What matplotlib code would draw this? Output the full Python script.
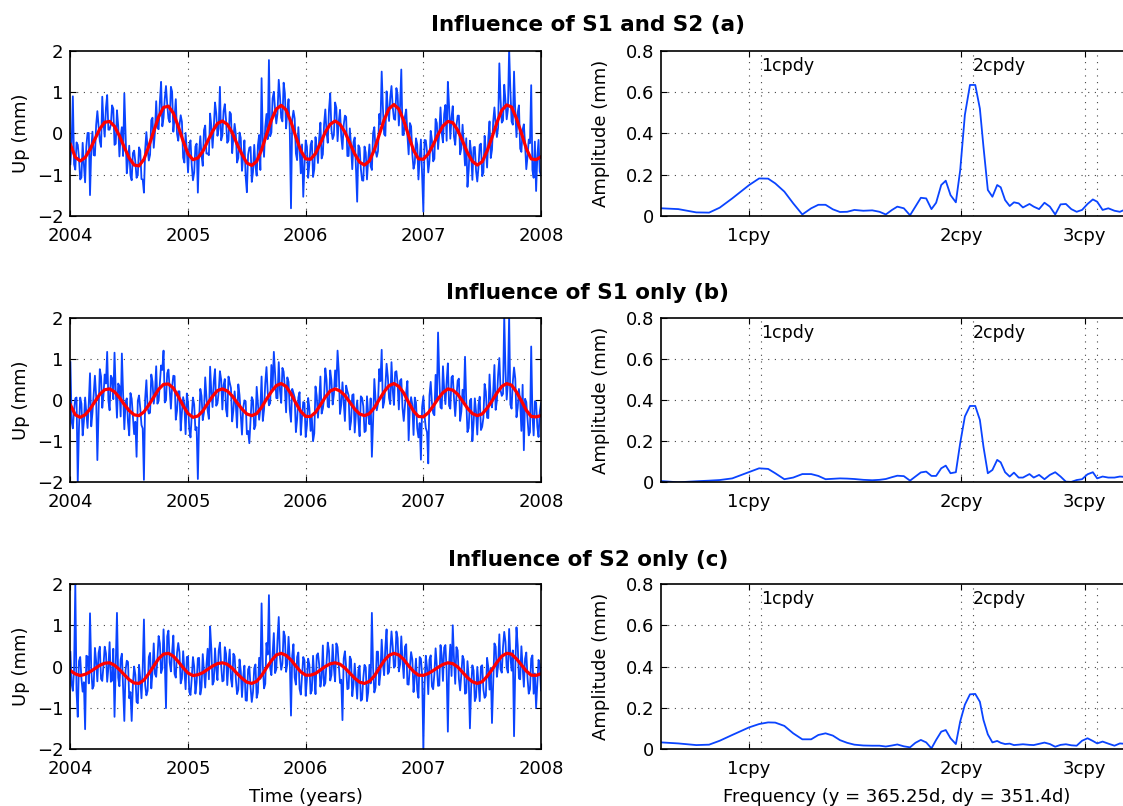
import numpy as np
import matplotlib
matplotlib.use("Agg")
import matplotlib.pyplot as plt

plt.rcParams['font.family'] = ['DejaVu Sans']
plt.rcParams['font.size'] = 13

# ---- time series (up component, mm) ----
# samples at 2004 + k/48 yr
up_a = [-0.75, 0.90, -0.88, -0.28, -1.12, -0.23, -1.19, 0.01, -1.50, 0.04,
        -0.54, 0.54, -0.19, 0.89, -0.08, 0.93, 0.09, 0.68, -0.28, 0.56,
        -0.56, 0.15, 0.97, -0.97, -0.30, -1.14, -0.42, -1.08, -0.34, -1.11,
        -1.44, 0.03, -0.66, 0.32, -0.35, 0.78, 0.10, 1.25, 0.38, 1.15,
        0.36, 1.13, 0.04, 0.83, -0.18, 0.44, -0.59, 0.01, -0.95, -0.17,
        -1.14, -0.32, -1.44, -0.07, -0.79, 0.19, -0.49, 0.48, -0.35, 0.75,
        -0.06, 1.13, -0.05, 0.71, -0.23, 0.52, -0.48, 0.23, -0.71, 0.02,
        -0.91, -0.17, -1.43, -0.35, -1.18, -0.28, -1.03, -0.04, 1.34, -0.57,
        0.47, 1.78, 0.02, 1.01, 0.24, 1.30, 0.38, 1.23, 0.12, 0.83,
        -1.82, 0.55, -0.49, 0.15, -0.97, -1.54, -0.17, -1.08, -0.28, -1.06,
        -0.09, -0.72, 0.26, -0.51, 0.58, -0.23, 0.97, -0.14, 0.75, -0.19,
        0.57, -0.38, 0.43, -0.55, 0.12, -0.87, -0.10, -1.66, -0.35, -1.14,
        -0.32, -1.12, -0.27, -0.89, 0.15, -0.57, 0.47, 1.50, -0.02, 1.02,
        0.30, 1.15, 0.35, 1.10, 0.19, 1.55, -0.04, 0.58, -0.51, 0.17,
        -0.86, -0.12, -1.12, -0.15, -1.90, -0.17, -0.95, 0.06, -0.68, 0.35,
        -0.38, 0.63, -0.22, 0.69, 1.25, -0.13, 0.66, -0.28, 0.43, -0.51,
        0.21, -0.78, -1.30, -0.18, -1.13, -0.33, -1.17, -0.28, -1.04, -0.06,
        -0.83, 0.29, -0.40, 0.63, -0.09, 1.70, 0.26, 1.18, 0.34, 2.05,
        0.29, 1.50, -0.09, 0.68, -0.45, 0.22, -0.87, -0.15, 1.17, -1.08,
        -1.40, -0.16, -1.02]
# samples halfway between the ones above
up_a_mid = [-0.25, -0.75, -0.22, -0.60, -1.07, -0.76, -0.32, 0.01, -0.41, -0.53,
            0.20, 0.17, -0.33, 0.25, 0.62, 0.09, 0.21, 0.60, -0.25, 0.18,
            -0.07, -0.55, 0.03, -0.66, -1.02, -0.48, -0.70, -1.01, -0.42, -1.12,
            -0.40, -0.37, -0.52, 0.38, 0.04, 0.13, 0.76, 0.17, 0.84, 0.70,
            0.27, 1.01, 0.39, -0.01, 0.20, 0.28, -0.71, -0.42, -0.30, -0.77,
            -0.95, -0.25, -0.46, -0.54, 0.08, -0.49, -0.53, 0.17, 0.14, 0.49,
            0.12, -0.17, 0.54, 0.32, -0.17, 0.47, -0.09, -0.03, -0.60, -0.11,
            -0.56, -1.05, -0.52, -0.33, -0.94, -0.79, -0.29, -0.89, -0.19, 0.16,
            -0.14, -0.07, 0.85, 0.58, 0.49, 0.90, 0.29, 0.98, 0.52, 0.09,
            0.33, 0.36, -0.65, -0.38, -0.27, -0.79, -0.32, -0.73, -0.18, -0.87,
            -0.35, -0.12, -0.61, 0.22, 0.02, 0.57, 0.08, -0.04, 0.62, 0.28,
            -0.07, 0.20, 0.40, -0.55, -0.30, -0.21, -0.83, -0.29, -0.86, -1.15,
            -0.47, -0.64, -0.80, 0.01, -0.41, -0.43, 0.22, 0.62, -0.06, 0.63,
            0.87, 0.64, 0.33, 0.94, 0.66, -0.04, 0.42, -0.05, 0.25, -0.50,
            -0.72, -0.27, -0.60, -0.99, -0.16, -0.45, -0.67, -0.16, -0.62, 0.25,
            0.02, 0.01, 0.47, -0.18, 0.66, 0.39, -0.08, 0.19, 0.43, -0.36,
            -0.28, -0.12, -0.90, -0.47, -0.34, -0.91, -0.81, -0.25, -0.95, -0.40,
            -0.13, -0.60, 0.29, 0.21, 0.14, 0.83, 0.31, 0.80, 0.58, 1.05,
            0.21, 0.51, 0.51, -0.37, 0.09, -0.26, -0.57, -0.24, -0.89, -0.20,
            -0.56, -0.93]

up_b = [0.92, -0.69, 0.04, -2.00, 0.06, -0.86, 0.06, -0.68, 0.65, -0.31,
        0.59, -1.46, 0.75, -0.19, 0.62, 1.17, -0.25, 0.53, 1.15, -0.43,
        0.34, 1.13, -0.71, 0.04, -0.86, 0.03, -0.83, -1.38, 0.11, -0.61,
        -1.94, 0.48, -0.33, 0.62, -0.09, 0.82, -0.02, 0.84, 1.20, -0.01,
        0.74, -0.21, 0.59, -0.48, 0.21, -0.74, 0.07, -0.83, -0.07, -0.91,
        0.06, -0.73, -1.92, 0.27, -0.49, 0.55, -0.26, 0.81, -0.17, 0.75,
        -0.08, 0.70, -0.23, 0.51, -0.40, 0.42, -0.52, 0.21, -0.67, 0.12,
        -0.84, -0.01, -0.83, -1.05, 0.07, -0.71, 0.32, -0.48, 0.57, -0.24,
        0.80, -0.13, 0.85, 1.17, 0.05, 0.92, -0.07, 0.69, -0.30, 0.44,
        -0.53, 0.17, -0.78, 0.06, -0.85, -0.05, -0.90, 0.05, -0.75, -1.00,
        0.33, -0.43, 0.57, -0.21, 0.77, -0.16, 0.72, -0.11, 0.72, 1.20,
        -0.34, 0.43, -0.51, 0.21, -0.72, 0.12, -0.79, -0.01, -0.88, 0.05,
        -0.78, 0.09, -0.59, -1.38, 0.51, -0.25, 0.75, 1.22, -0.05, 0.88,
        0.05, 0.92, -0.12, 0.70, -0.23, 0.51, -0.51, 0.19, -0.98, 0.07,
        -0.85, -0.06, -0.91, -1.45, 0.09, -0.68, -1.54, 0.44, -0.32, 0.61,
        1.64, -0.18, 0.82, -0.10, 0.89, -0.21, 0.59, -0.39, 0.47, -0.51,
        0.25, 1.05, -0.78, -0.01, -1.00, 0.04, -0.84, 0.08, -0.65, 0.39,
        -0.43, 0.62, -0.18, 0.85, -0.02, 1.02, 0.10, 2.05, 0.01, 2.05,
        -0.21, 0.79, -0.42, 0.27, -0.75, -1.22, -0.05, -0.86, 1.30, -0.86,
        -0.06, -0.90, -0.08]
up_b_mid = [-0.52, -0.24, 0.06, -0.67, -0.09, -0.52, -0.31, -0.08, -0.64, 0.15,
            0.09, -0.26, 0.57, 0.12, 0.40, -0.01, 0.59, 0.02, 0.21, 0.40,
            -0.40, 0.15, -0.05, -0.54, 0.17, -0.40, -0.53, -0.02, -0.20, -0.69,
            0.03, -0.18, -0.31, 0.44, 0.18, -0.09, 0.41, 0.73, -0.06, 0.65,
            0.25, 0.32, 0.58, -0.26, 0.21, -0.30, -0.11, 0.16, -0.71, -0.38,
            -0.11, -0.66, -0.54, 0.10, -0.30, 0.07, -0.46, 0.19, 0.45, -0.14,
            0.20, 0.50, 0.36, -0.23, 0.57, 0.29, -0.24, -0.12, 0.38, -0.38,
            -0.19, -0.03, -0.75, -0.51, -0.01, -0.62, -0.07, -0.22, -0.51, 0.41,
            0.19, -0.08, 0.28, 0.65, 0.04, 0.23, 0.78, 0.29, 0.55, -0.24,
            0.27, 0.06, -0.47, 0.19, -0.41, -0.07, -0.62, -0.20, -0.42, -0.81,
            0.10, -0.03, -0.33, 0.04, 0.49, -0.18, 0.47, 0.14, 0.32, 0.69,
            -0.11, -0.06, 0.35, 0.11, -0.52, 0.14, -0.33, -0.49, 0.09, -0.15,
            -0.75, -0.34, 0.04, -0.51, 0.02, -0.08, 0.46, -0.19, 0.32, 0.57,
            -0.10, 0.25, 0.68, 0.39, 0.47, -0.19, -0.13, 0.46, -0.17, -0.12,
            0.06, -0.69, -0.56, -0.17, -0.39, -0.78, 0.11, -0.07, -0.37, -0.03,
            0.55, -0.21, 0.25, 0.45, -0.14, 0.55, 0.04, 0.07, 0.52, -0.28,
            -0.05, -0.01, -0.68, 0.03, -0.56, -0.29, -0.12, -0.73, -0.43, 0.20,
            -0.44, -0.01, 0.20, -0.24, 0.61, 0.24, 0.15, 0.73, 0.41, -0.11,
            0.44, 0.52, -0.19, -0.04, 0.37, 0.03, -0.44, -0.78, -0.35, -0.03,
            -0.65, -0.29]

up_c = [0.35, -0.59, 2.00, -1.22, 0.23, -0.61, -1.52, 0.24, 1.29, -0.54,
        0.45, -0.36, 0.48, -0.35, 0.48, -0.37, 0.59, -0.34, -1.22, 1.30,
        -0.48, 0.31, -1.32, 0.14, -0.77, -1.32, 0.00, -0.86, 0.04, -0.77,
        1.14, -0.70, 0.23, -0.53, 0.56, -0.25, 0.74, -0.16, 0.90, -1.01,
        0.87, -0.12, 0.75, -0.27, 0.57, -0.41, 0.37, -0.55, 0.24, -0.69,
        0.23, -0.66, 0.20, -0.68, 0.30, -0.51, 0.43, 0.97, -0.44, 0.44,
        -0.33, 0.58, -0.36, 0.47, -0.45, 0.41, -0.49, 0.25, -0.67, 0.17,
        -0.74, 0.02, -0.83, 0.00, -0.86, -0.04, -0.76, 0.21, 1.53, -0.53,
        0.57, 1.73, -0.21, 0.81, -0.07, 1.20, -0.08, 0.85, -0.13, 0.72,
        -1.19, 0.54, -0.44, 0.34, -0.68, 0.23, -0.71, 0.19, -0.66, 0.26,
        -0.67, 0.32, -0.49, 0.51, -0.40, 0.58, -0.34, 0.53, -0.36, 0.47,
        -0.40, -1.30, 0.37, -0.55, 0.24, -0.72, 0.07, -0.78, 0.02, -0.80,
        0.04, -0.84, 0.04, 1.30, -0.63, 0.36, -0.45, 0.65, -0.21, 0.90,
        -0.13, 0.85, -0.03, 0.85, -0.12, 0.73, -0.28, 0.54, -0.44, 0.35,
        -0.62, 0.19, -0.76, 0.19, -2.00, 0.26, -0.67, 0.27, -0.55, 0.44,
        -0.47, 0.52, -0.35, 0.52, -1.58, 0.53, 1.00, -0.42, 0.39, -0.58,
        0.26, -0.66, 0.13, -1.50, 0.03, -0.84, -0.01, -0.84, 0.03, -0.76,
        0.21, -0.56, -1.37, 0.56, -0.25, 0.78, -0.15, 0.84, -0.03, 0.91,
        -0.10, -1.69, 0.95, -0.29, 0.49, -0.49, 0.34, -0.66, 0.19, -0.66,
        -1.00, 0.16, -0.58]
up_c_mid = [-0.42, -0.06, -0.61, 0.13, -0.29, -0.38, 0.26, -0.41, -0.05, -0.47,
            0.13, 0.33, -0.30, 0.03, 0.32, -0.03, -0.37, 0.43, 0.00, -0.27,
            0.17, -0.53, -0.09, 0.11, -0.62, -0.44, -0.20, -0.89, -0.29, -0.05,
            -0.45, -0.59, 0.33, -0.13, -0.18, 0.18, 0.56, -0.05, 0.16, 0.73,
            0.10, 0.35, -0.18, 0.33, 0.34, -0.29, -0.08, 0.23, -0.62, -0.29,
            0.00, -0.39, 0.21, -0.50, -0.13, 0.03, -0.31, 0.43, -0.36, -0.07,
            0.38, 0.03, -0.34, 0.31, 0.05, -0.30, 0.31, -0.30, -0.56, -0.10,
            -0.25, -0.82, -0.07, -0.50, -0.62, 0.05, -0.63, -0.30, 0.03, -0.42,
            0.29, -0.04, 0.28, -0.16, 0.65, 0.23, 0.07, 0.74, 0.06, 0.17,
            0.26, -0.27, 0.23, -0.54, -0.21, 0.15, -0.31, 0.04, -0.58, -0.23,
            0.27, 0.04, -0.28, -0.47, 0.10, 0.38, -0.21, -0.04, 0.56, 0.05,
            -0.32, 0.19, -0.02, -0.53, 0.17, -0.43, -0.37, -0.08, -0.83, -0.28,
            -0.02, -0.62, -0.41, -0.04, -0.51, 0.36, -0.15, 0.07, 0.47, -0.18,
            0.38, 0.49, 0.01, 0.69, 0.05, 0.15, 0.48, -0.43, 0.00, 0.17,
            -0.26, -0.57, 0.23, -0.21, -0.44, -0.02, 0.17, -0.48, -0.18, 0.02,
            -0.46, 0.27, 0.46, -0.10, 0.05, -0.23, 0.19, 0.47, -0.30, -0.19,
            0.17, -0.64, -0.26, -0.51, -0.10, -0.74, -0.40, 0.00, -0.56, -0.71,
            -0.02, -0.04, -0.36, 0.48, 0.02, -0.07, 0.47, 0.60, -0.15, 0.25,
            0.39, -0.03, 0.51, -0.31, -0.02, 0.19, -0.28, -0.55, 0.27, -0.17,
            -0.41, 0.04]

# ---- fitted draconitic signal, sampled every 1/24 yr ----
fit_a = [-0.27, -0.58, -0.67, -0.59, -0.39, -0.14, 0.11, 0.27, 0.29, 0.17,
         -0.06, -0.34, -0.60, -0.77, -0.79, -0.63, -0.31, 0.05, 0.40, 0.63,
         0.66, 0.49, 0.17, -0.19, -0.50, -0.64, -0.60, -0.44, -0.19, 0.05,
         0.24, 0.30, 0.22, 0.02, -0.26, -0.51, -0.72, -0.78, -0.68, -0.40,
         -0.03, 0.32, 0.59, 0.68, 0.57, 0.28, -0.09, -0.42, -0.62, -0.63,
         -0.49, -0.24, 0.03, 0.22, 0.30, 0.22, 0.03, -0.235, -0.50, -0.70,
         -0.77, -0.67, -0.40, -0.035, 0.33, 0.60, 0.70, 0.59, 0.31, -0.06,
         -0.41, -0.62, -0.63, -0.50, -0.28, -0.03, 0.18, 0.29, 0.26, 0.08,
         -0.19, -0.47, -0.68, -0.77, -0.69, -0.43, -0.10, 0.26, 0.56, 0.69,
         0.64, 0.36, 0.005, -0.37, -0.62, -0.64, -0.57]

fit_b = [-0.12, -0.36, -0.42, -0.36, -0.22, -0.04, 0.14, 0.25, 0.27, 0.20,
         0.06, -0.11, -0.26, -0.36, -0.38, -0.29, -0.12, 0.07, 0.26, 0.38,
         0.39, 0.29, 0.09, -0.14, -0.33, -0.42, -0.39, -0.27, -0.085, 0.09,
         0.23, 0.27, 0.22, 0.10, -0.065, -0.22, -0.34, -0.38, -0.33, -0.18,
         0.02, 0.20, 0.35, 0.40, 0.33, 0.15, -0.075, -0.28, -0.40, -0.40,
         -0.30, -0.12, 0.07, 0.22, 0.27, 0.22, 0.11, -0.055, -0.22, -0.34,
         -0.38, -0.33, -0.19, 0.01, 0.20, 0.35, 0.40, 0.33, 0.17, -0.06,
         -0.27, -0.40, -0.41, -0.31, -0.15, 0.03, 0.18, 0.27, 0.24, 0.14,
         -0.026, -0.20, -0.33, -0.38, -0.34, -0.20, -0.025, 0.17, 0.33, 0.40,
         0.36, 0.195, -0.02, -0.25, -0.40, -0.41, -0.38]

fit_c = [-0.10, -0.18, -0.22, -0.19, -0.13, -0.05, 0.03, 0.08, 0.09, 0.03,
         -0.075, -0.20, -0.32, -0.40, -0.41, -0.33, -0.17, 0.01, 0.19, 0.30,
         0.32, 0.25, 0.12, -0.03, -0.16, -0.22, -0.20, -0.15, -0.07, 0.01,
         0.07, 0.09, 0.055, -0.04, -0.17, -0.285, -0.38, -0.41, -0.36, -0.22,
         -0.034, 0.14, 0.28, 0.32, 0.27, 0.16, 0.01, -0.13, -0.21, -0.21,
         -0.17, -0.085, 0.0, 0.065, 0.09, 0.055, -0.035, -0.16, -0.285, -0.38,
         -0.41, -0.36, -0.23, -0.045, 0.14, 0.27, 0.32, 0.28, 0.17, 0.015,
         -0.12, -0.21, -0.215, -0.17, -0.10, -0.02, 0.05, 0.09, 0.07, -0.01,
         -0.14, -0.27, -0.37, -0.41, -0.37, -0.24, -0.08, 0.10, 0.25, 0.32,
         0.30, 0.185, 0.04, -0.11, -0.21, -0.215, -0.175]

# ---- amplitude spectra (cpy, mm) ----
freq = [0.750, 0.793, 0.841, 0.877, 0.908, 0.946, 1.000, 1.033, 1.064, 1.089,
        1.122, 1.155, 1.190, 1.225, 1.254, 1.284, 1.315, 1.346, 1.378, 1.411,
        1.453, 1.496, 1.532, 1.564, 1.596, 1.624, 1.659, 1.693, 1.723, 1.754,
        1.785, 1.816, 1.844, 1.875, 1.903, 1.933, 1.967, 1.995, 2.026, 2.060,
        2.096, 2.128, 2.153, 2.184, 2.217, 2.252, 2.278, 2.311, 2.346, 2.379,
        2.416, 2.450, 2.503, 2.538, 2.583, 2.629, 2.676, 2.723, 2.771, 2.820,
        2.870, 2.921, 2.973, 3.027, 3.080, 3.124, 3.180, 3.240, 3.306, 3.365,
        3.424, 3.485]

amp_a = [0.036, 0.032, 0.016, 0.015, 0.039, 0.084, 0.149, 0.181, 0.180, 0.157,
         0.117, 0.060, 0.006, 0.036, 0.053, 0.053, 0.031, 0.018, 0.019, 0.028,
         0.024, 0.026, 0.019, 0.006, 0.028, 0.044, 0.036, 0.002, 0.044, 0.087,
         0.084, 0.032, 0.063, 0.149, 0.170, 0.100, 0.065, 0.220, 0.490, 0.635,
         0.635, 0.520, 0.335, 0.125, 0.092, 0.149, 0.138, 0.076, 0.047, 0.065,
         0.060, 0.040, 0.057, 0.044, 0.032, 0.063, 0.044, 0.006, 0.055, 0.057,
         0.032, 0.019, 0.028, 0.057, 0.079, 0.068, 0.028, 0.036, 0.024, 0.019,
         0.030, 0.025]

amp_b = [0.006, 0.000, 0.005, 0.008, 0.011, 0.019, 0.050, 0.068, 0.065, 0.044,
         0.015, 0.023, 0.040, 0.040, 0.031, 0.015, 0.017, 0.019, 0.018, 0.016,
         0.012, 0.010, 0.012, 0.016, 0.025, 0.032, 0.030, 0.008, 0.028, 0.048,
         0.052, 0.031, 0.031, 0.068, 0.081, 0.044, 0.049, 0.190, 0.320, 0.371,
         0.371, 0.303, 0.173, 0.044, 0.060, 0.109, 0.097, 0.049, 0.028, 0.047,
         0.023, 0.023, 0.040, 0.023, 0.036, 0.015, 0.036, 0.049, 0.028, 0.003,
         0.002, 0.011, 0.015, 0.039, 0.049, 0.019, 0.028, 0.023, 0.023, 0.028,
         0.026, 0.024]

amp_c = [0.032, 0.027, 0.019, 0.021, 0.040, 0.068, 0.105, 0.121, 0.129, 0.128,
         0.112, 0.076, 0.047, 0.047, 0.068, 0.076, 0.065, 0.043, 0.030, 0.021,
         0.017, 0.016, 0.016, 0.012, 0.017, 0.022, 0.013, 0.008, 0.030, 0.044,
         0.032, 0.003, 0.044, 0.084, 0.092, 0.052, 0.024, 0.133, 0.215, 0.265,
         0.267, 0.229, 0.141, 0.071, 0.032, 0.039, 0.030, 0.024, 0.026, 0.019,
         0.021, 0.023, 0.020, 0.019, 0.025, 0.031, 0.024, 0.011, 0.020, 0.023,
         0.018, 0.016, 0.040, 0.052, 0.039, 0.027, 0.036, 0.026, 0.016, 0.027,
         0.025, 0.024]

titles = ["Influence of S1 and S2 (a)", "Influence of S1 only (b)", "Influence of S2 only (c)"]
years = [2004, 2005, 2006, 2007, 2008]
year_len, dra_len = 365.25, 351.4
cpy_ticks = [1, 2, 3]
cpy_labels = ["1cpy", "2cpy", "3cpy"]

blue = '#0a44ff'
dot = dict(color='#444444', lw=0.8, ls=(0, (1, 5)), zorder=0.5)


def merge(main, mid):
    # put the half-step samples between the main ones
    y = np.empty(len(main) + len(mid))
    y[0::2] = main
    y[1::2] = mid
    return y


W, H = 1123, 806
fig = plt.figure(figsize=(W / 100, H / 100), dpi=100)

rows = [(51, 215.7), (317.7, 482.3), (584, 749)]
left_x, right_x, ax_w = 70.4, 661.3, 470.6

ups = [merge(up_a, up_a_mid), merge(up_b, up_b_mid), merge(up_c, up_c_mid)]
fits = [fit_a, fit_b, fit_c]
amps = [amp_a, amp_b, amp_c]
cpdy = year_len / dra_len

for i, (top, bot) in enumerate(rows):
    b = 1 - bot / H
    h = (bot - top) / H

    # time series
    ax = fig.add_axes([left_x / W, b, ax_w / W, h])
    t_up = np.linspace(2004, 2008, len(ups[i]))
    t_fit = np.linspace(2004, 2008, len(fits[i]))
    ax.plot(t_up, ups[i], color=blue, lw=1.3)
    ax.plot(t_fit, fits[i], color='red', lw=2.3)
    ax.set_xlim(2004, 2008)
    ax.set_ylim(-2, 2)
    ax.set_xticks(years)
    ax.set_yticks([-2, -1, 0, 1, 2])
    for yr in years[1:-1]:
        ax.axvline(yr, **dot)
    for v in [-1, 0, 1]:
        ax.axhline(v, **dot)
    ax.set_ylabel("Up (mm)")
    ax.yaxis.set_label_coords(-0.086, 0.5)
    ax.tick_params(direction='in', length=4, width=0.8, pad=8, top=True, right=True)
    ax.tick_params(axis='y', pad=5)
    if i == 2:
        ax.set_xlabel("Time (years)")
        ax.xaxis.set_label_coords(0.5, -0.235)
    for s in ax.spines.values():
        s.set_linewidth(1.2)

    # spectrum
    ax2 = fig.add_axes([right_x / W, b, ax_w / W, h])
    ax2.plot(freq, amps[i], color=blue, lw=1.3)
    ax2.set_xscale('log')
    ax2.set_xlim(0.75, 3.5)
    ax2.set_ylim(0, 0.8)
    ax2.set_xticks(cpy_ticks, cpy_labels)
    ax2.xaxis.set_minor_locator(matplotlib.ticker.NullLocator())
    ax2.set_yticks([0, 0.2, 0.4, 0.6, 0.8], ["0", "0.2", "0.4", "0.6", "0.8"])
    for f in cpy_ticks:
        ax2.axvline(f, **dot)
        ax2.axvline(f * cpdy, **dot)
    for v in [0.2, 0.4, 0.6]:
        ax2.axhline(v, **dot)
    ax2.text(cpdy, 0.727, "1cpdy", ha='left', va='center', fontsize=12.5)
    ax2.text(2 * cpdy, 0.727, "2cpdy", ha='left', va='center', fontsize=12.5)
    ax2.set_ylabel("Amplitude (mm)")
    ax2.yaxis.set_label_coords(-0.108, 0.5)
    ax2.tick_params(direction='in', length=4, width=0.8, pad=8, top=True, right=True)
    ax2.tick_params(axis='y', pad=5)
    if i == 2:
        ax2.set_xlabel("Frequency (y = 365.25d, dy = 351.4d)")
        ax2.xaxis.set_label_coords(0.5, -0.235)
    for s in ax2.spines.values():
        s.set_linewidth(1.2)

    title_y = [25, 293, 560][i]
    fig.text(588 / W, 1 - title_y / H, titles[i], ha='center', va='center',
             fontsize=15.5, fontweight='bold')

fig.savefig("out.png", dpi=100)
